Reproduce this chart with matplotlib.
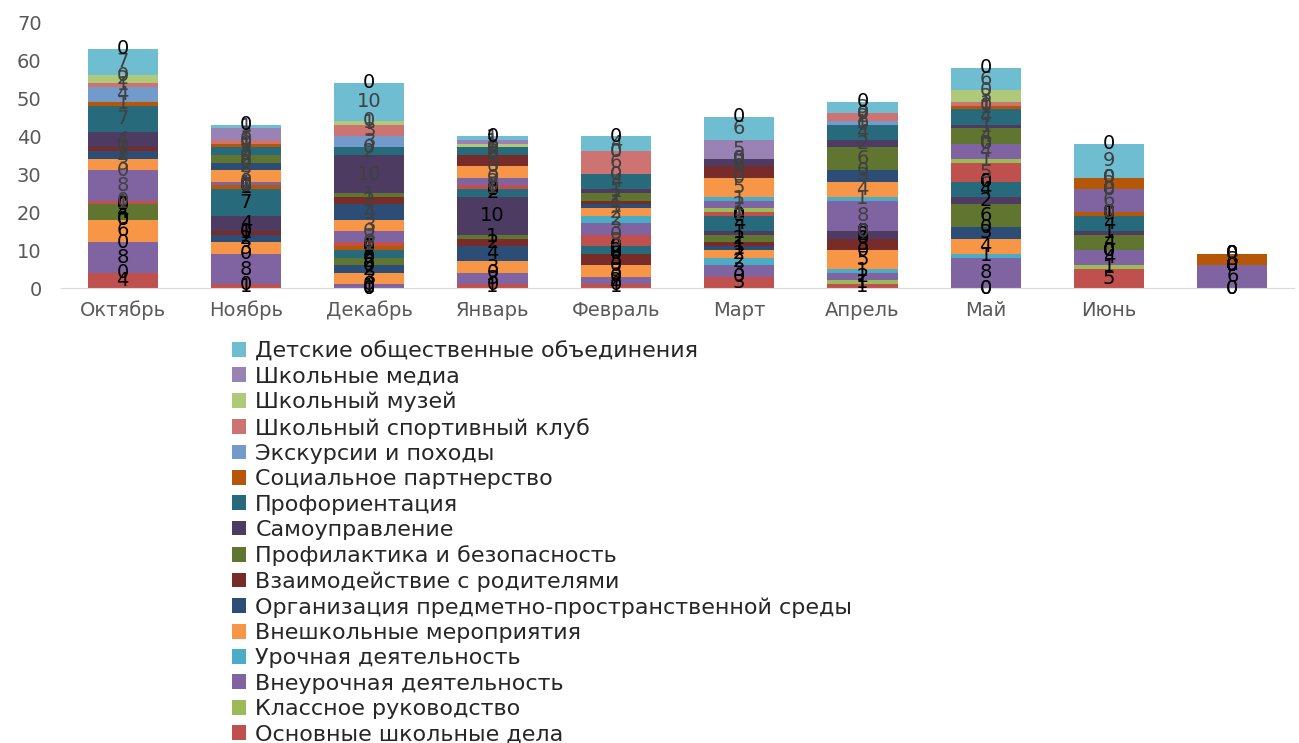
import numpy as np
import matplotlib.pyplot as plt

plt.rcParams['font.family'] = ['DejaVu Sans']

months = ["Октябрь", "Ноябрь", "Декабрь", "Январь", "Февраль", "Март",
          "Апрель", "Май", "Июнь", ""]

modules = [
    "Основные школьные дела",
    "Классное руководство",
    "Внеурочная деятельность",
    "Урочная деятельность",
    "Внешкольные мероприятия",
    "Организация предметно-пространственной среды",
    "Взаимодействие с родителями",
    "Профилактика и безопасность",
    "Самоуправление",
    "Профориентация",
    "Социальное партнерство",
    "Экскурсии и походы",
    "Школьный спортивный клуб",
    "Школьный музей",
    "Школьные медиа",
    "Детские общественные объединения",
]

colors = ["#C0504D", "#9BBB59", "#8064A2", "#4BACC6", "#F79646",
          "#2C4D75", "#772C2A", "#5F7530", "#4D3B62", "#276A7C", "#B65708",
          "#729ACA", "#CD7371", "#AFC97A", "#9983B5", "#6FBDD1"]

# нижний блок (черные подписи), строки = модули, столбцы = месяцы
block1 = [
    [4, 1, 0, 1, 1, 3, 1, 0, 5, 0],
    [0, 0, 0, 0, 0, 0, 1, 0, 1, 0],
    [8, 8, 1, 3, 2, 3, 2, 8, 4, 6],
    [0, 0, 0, 0, 0, 2, 1, 1, 0, 0],
    [6, 3, 3, 3, 3, 2, 5, 4, 0, 0],
    [0, 2, 2, 4, 0, 1, 0, 3, 0, 0],
    [0, 1, 0, 2, 3, 1, 3, 0, 0, 0],
    [4, 0, 2, 1, 0, 2, 0, 6, 4, 0],
    [0, 4, 0, 10, 0, 1, 2, 2, 1, 0],
    [0, 7, 2, 2, 2, 4, 0, 4, 4, 0],
    [0, 1, 1, 0, 0, 0, 0, 0, 1, 3],
    [0, 0, 0, 0, 0, 0, 0, 0, 0, 0],
    [0, 0, 0, 0, 0, 0, 0, 0, 0, 0],
    [0, 0, 0, 0, 0, 0, 0, 0, 0, 0],
    [0, 0, 0, 0, 0, 0, 0, 0, 0, 0],
    [0, 0, 0, 0, 0, 0, 0, 0, 0, 0],
]

# верхний блок (серые подписи)
block2 = [
    [1, 0, 1, 1, 3, 1, 0, 5, 0, 0],
    [0, 0, 0, 0, 0, 1, 0, 1, 0, 0],
    [8, 1, 3, 2, 3, 2, 8, 4, 6, 0],
    [0, 0, 0, 0, 2, 1, 1, 0, 0, 0],
    [3, 3, 3, 3, 2, 5, 4, 0, 0, 0],
    [2, 2, 4, 0, 1, 0, 3, 0, 0, 0],
    [1, 0, 2, 3, 1, 3, 0, 0, 0, 0],
    [0, 2, 1, 0, 2, 0, 6, 4, 0, 0],
    [4, 0, 10, 0, 1, 2, 2, 1, 0, 0],
    [7, 2, 2, 2, 4, 0, 4, 4, 0, 0],
    [1, 1, 0, 0, 0, 0, 0, 1, 3, 0],
    [4, 0, 3, 0, 0, 0, 1, 0, 0, 0],
    [1, 1, 3, 0, 6, 0, 2, 1, 0, 0],
    [2, 0, 1, 1, 0, 0, 0, 3, 0, 0],
    [0, 3, 0, 1, 0, 5, 0, 0, 0, 0],
    [7, 1, 10, 1, 4, 6, 3, 6, 9, 0],
]

tail = [0, 0, 0, 0, 0, 0, 0, 0, 0, 0]

W, H = 1299, 743
fig = plt.figure(figsize=(W / 100, H / 100), dpi=100)
ax = fig.add_axes([61 / W, 1 - 288 / H, 1233 / W, 266 / H])

x = np.arange(len(months))
width = 0.57
bottom = np.zeros(len(months))
handles = []

for block, lab_color in [(block1, "black"), (block2, "#404040")]:
    for i, vals in enumerate(block):
        vals = np.array(vals, dtype=float)
        bars = ax.bar(x, vals, width, bottom=bottom, color=colors[i],
                      linewidth=0)
        ax.bar_label(bars, labels=[str(int(v)) for v in vals],
                     label_type="center", color=lab_color, fontsize=14)
        if block is block1:
            handles.append(bars)
        bottom += vals

bars = ax.bar(x, tail, width, bottom=bottom, color="none", linewidth=0)
ax.bar_label(bars, labels=[str(v) for v in tail], label_type="center",
             color="black", fontsize=14)

ax.set_xlim(-0.5, len(months) - 0.5)
ax.set_ylim(0, 70)
ax.set_yticks(range(0, 71, 10))
ax.set_xticks(x)
ax.set_xticklabels(months)
ax.tick_params(length=0, labelsize=14, labelcolor="#595959")
ax.tick_params(axis="y", pad=14)
ax.tick_params(axis="x", pad=9)
for s in ["top", "right", "left"]:
    ax.spines[s].set_visible(False)
ax.spines["bottom"].set_color("#D9D9D9")

leg = fig.legend(handles[::-1], modules[::-1], loc="upper left",
                 bbox_to_anchor=(232 / W, 1 - 341 / H),
                 bbox_transform=fig.transFigure, frameon=False,
                 fontsize=16, handlelength=0.65, handleheight=0.65,
                 handletextpad=0.4, labelspacing=0.24, borderpad=0,
                 borderaxespad=0)
for t in leg.get_texts():
    t.set_color("#262626")

fig.savefig("out.png", dpi=100)
